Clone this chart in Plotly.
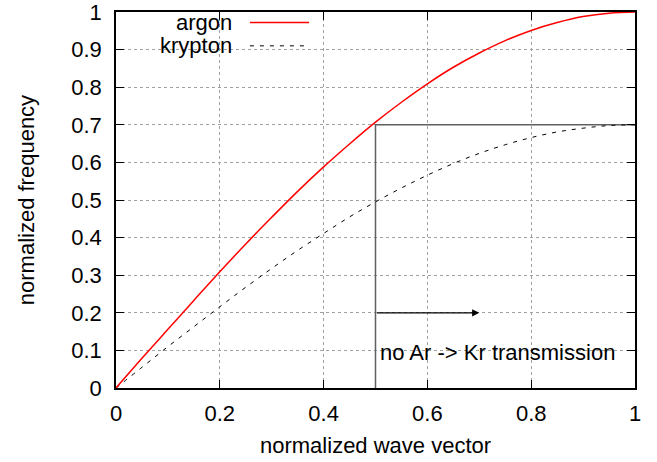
import plotly.graph_objects as go

# wave vector sample points
wave_vector = [0.0, 0.05, 0.1, 0.15, 0.2, 0.25, 0.3, 0.35, 0.4, 0.45, 0.5,
               0.55, 0.6, 0.65, 0.7, 0.75, 0.8, 0.85, 0.9, 0.95, 1.0]
argon = [0.0, 0.079, 0.156, 0.233, 0.309, 0.383, 0.454, 0.523, 0.588, 0.649, 0.707,
         0.760, 0.809, 0.853, 0.891, 0.924, 0.951, 0.972, 0.988, 0.997, 1.0]
krypton = [0.0, 0.055, 0.110, 0.163, 0.216, 0.268, 0.318, 0.366, 0.411, 0.455, 0.495,
           0.532, 0.566, 0.597, 0.624, 0.647, 0.666, 0.681, 0.691, 0.698, 0.70]
# boundary of the band gap region
bound_x = [0.5, 0.5, 1.0]
bound_y = [0.0, 0.7, 0.7]
# arrow
arrow_start = (0.5, 0.2)
arrow_end = (0.7, 0.2)
note_text = "no Ar -> Kr transmission"
note_pos = (0.505, 0.095)

x_ticks = [0, 0.2, 0.4, 0.6, 0.8, 1]
x_ticktext = ["0", "0.2", "0.4", "0.6", "0.8", "1"]
y_ticks = [0, 0.1, 0.2, 0.3, 0.4, 0.5, 0.6, 0.7, 0.8, 0.9, 1]
y_ticktext = ["0", "0.1", "0.2", "0.3", "0.4", "0.5", "0.6", "0.7", "0.8", "0.9", "1"]

FONT = "Liberation Sans, Arial, Helvetica, sans-serif"
FS = 22

fig = go.Figure()
fig.add_trace(go.Scatter(x=bound_x, y=bound_y, mode="lines",
                         line=dict(color="#606060", width=1.5), showlegend=False))
fig.add_trace(go.Scatter(x=wave_vector, y=krypton, mode="lines", line_shape="spline",
                         line=dict(color="black", width=1, dash="4px,6px"), showlegend=False))
fig.add_trace(go.Scatter(x=wave_vector, y=argon, mode="lines", line_shape="spline",
                         line=dict(color="#ff0000", width=1.5), showlegend=False))

fig.add_annotation(x=arrow_end[0], y=arrow_end[1], ax=arrow_start[0], ay=arrow_start[1],
                   xref="x", yref="y", axref="x", ayref="y", text="",
                   showarrow=True, arrowhead=2, arrowsize=1.2, arrowwidth=1.2,
                   arrowcolor="black")
fig.add_annotation(x=note_pos[0], y=note_pos[1], xref="x", yref="y", text=note_text,
                   showarrow=False, xanchor="left", yanchor="middle",
                   font=dict(family=FONT, size=FS, color="black"))

# manual legend (gnuplot style: text left, sample right)
legend_items = [("argon", dict(color="#ff0000", width=1.5)),
                ("krypton", dict(color="black", width=1, dash="4px,6px"))]
leg_y = [0.972, 0.910]
for (name, ln), yy in zip(legend_items, leg_y):
    fig.add_annotation(x=0.228, y=yy, xref="paper", yref="paper", text=name,
                       showarrow=False, xanchor="right", yanchor="middle",
                       font=dict(family=FONT, size=FS, color="black"))
    fig.add_shape(type="line", xref="paper", yref="paper", x0=0.258, x1=0.372,
                  y0=yy, y1=yy, line=ln)

# axis titles
fig.add_annotation(x=0.5, y=-0.152, xref="paper", yref="paper", text="normalized wave vector",
                   showarrow=False, xanchor="center", yanchor="middle",
                   font=dict(family=FONT, size=FS, color="black"))
fig.add_annotation(x=-0.173, y=0.5, xref="paper", yref="paper", text="normalized frequency",
                   showarrow=False, xanchor="center", yanchor="middle", textangle=-90,
                   font=dict(family=FONT, size=FS, color="black"))

axis_common = dict(showline=True, linecolor="black", linewidth=1.5, mirror="ticks",
                   ticks="inside", ticklen=8, tickcolor="black", tickwidth=1,
                   showgrid=True, gridcolor="#a0a0a0", griddash="dot", gridwidth=1,
                   zeroline=False, automargin=False, ticklabeloverflow="allow",
                   tickfont=dict(family=FONT, size=FS, color="black"))

fig.update_xaxes(range=[0, 1], tickvals=x_ticks, ticktext=x_ticktext,
                 ticklabelstandoff=5, **axis_common)
fig.update_yaxes(range=[0, 1], tickvals=y_ticks, ticktext=y_ticktext,
                 ticklabelstandoff=8, **axis_common)

fig.update_layout(width=657, height=462, margin=dict(l=116, r=22, t=12, b=74),
                  plot_bgcolor="white", paper_bgcolor="white",
                  font=dict(family=FONT, size=FS, color="black"))

# remove the page's default body margin so the chart fills the window exactly
fig.write_html("out.html", config={"displayModeBar": False},
               post_script="document.body.style.margin='0';")
